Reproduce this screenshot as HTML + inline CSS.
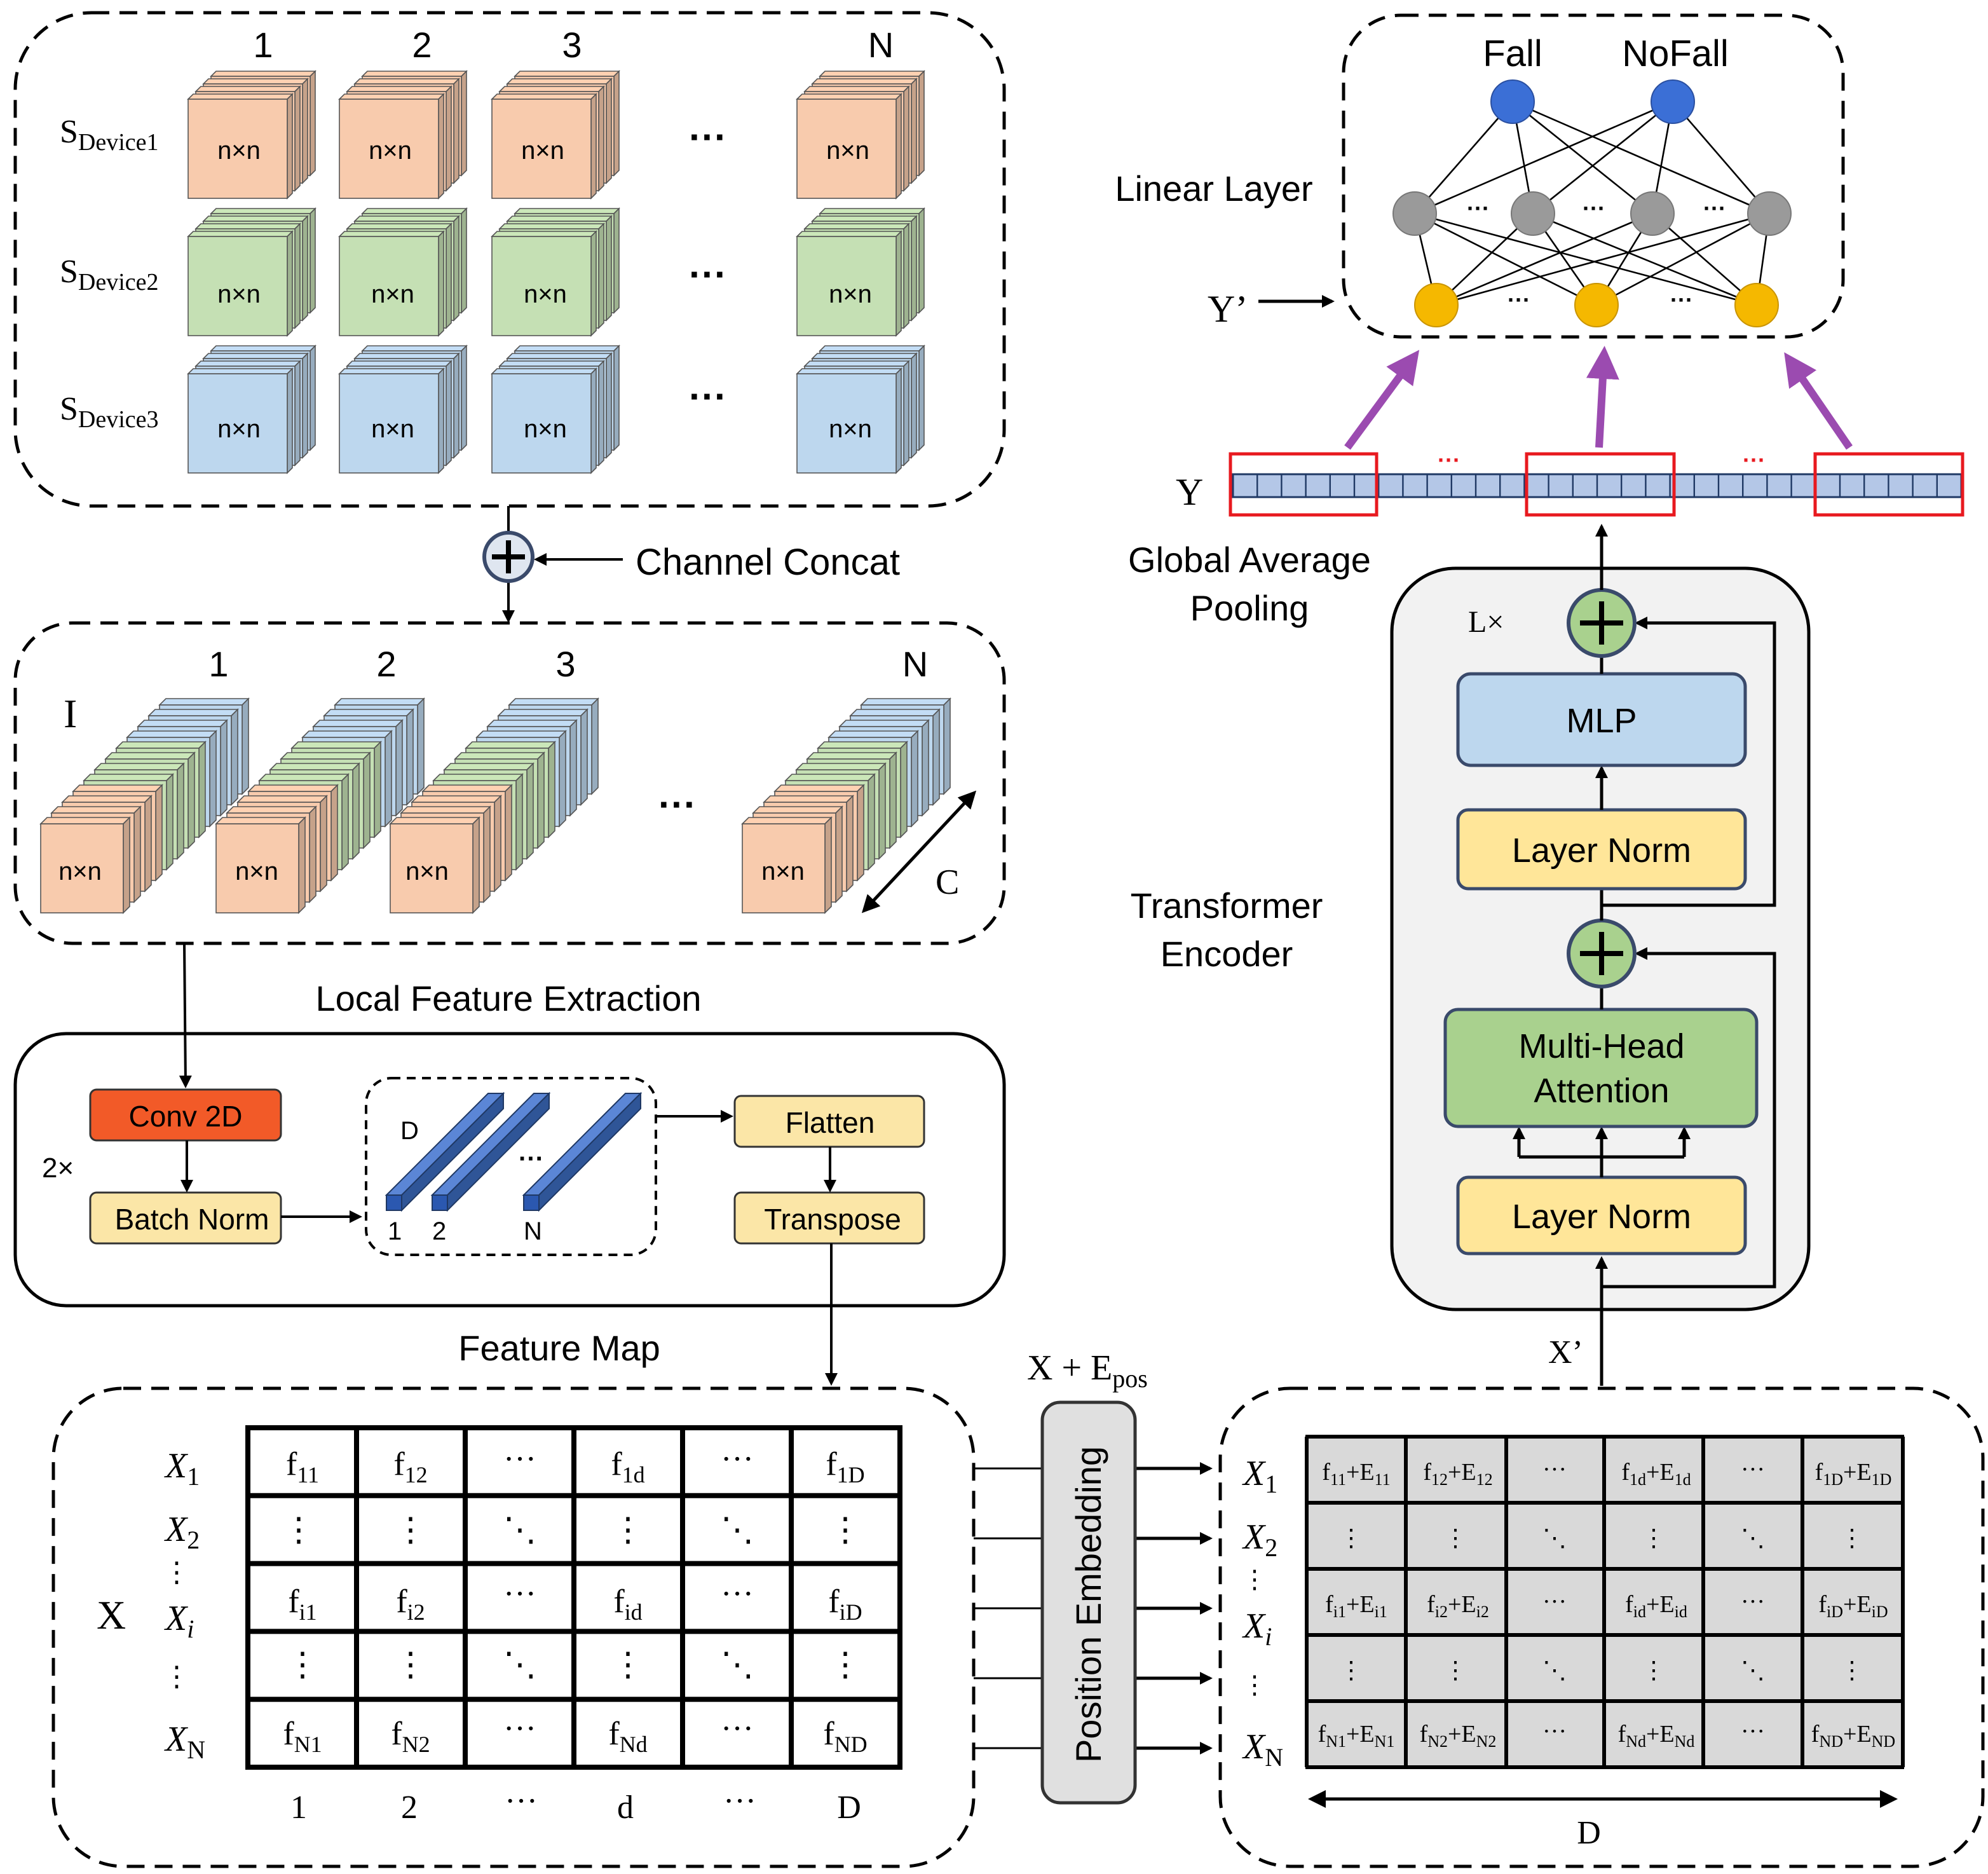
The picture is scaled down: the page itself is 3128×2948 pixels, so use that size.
<!DOCTYPE html>
<html><head><meta charset="utf-8"><style>
html,body{margin:0;padding:0;background:#fff}
svg{display:block}
.s{font-family:"Liberation Sans",sans-serif}
.r{font-family:"Liberation Serif",serif}
</style></head><body>
<svg id="g" width="3128" height="2948" viewBox="0 0 1564 1474" xmlns="http://www.w3.org/2000/svg">
<defs>
<marker id="a" markerWidth="10" markerHeight="10" refX="8" refY="5" orient="auto" markerUnits="userSpaceOnUse" viewBox="0 0 10 10"><path d="M0,0 L10,5 L0,10 z" fill="#000"/></marker>
<marker id="a2" markerWidth="14" markerHeight="14" refX="11" refY="7" orient="auto-start-reverse" markerUnits="userSpaceOnUse" viewBox="0 0 14 14"><path d="M0,0 L14,7 L0,14 z" fill="#000"/></marker>
<marker id="p" markerWidth="26" markerHeight="26" refX="20" refY="13" orient="auto" markerUnits="userSpaceOnUse" viewBox="0 0 26 26"><path d="M0,0 L26,13 L0,26 z" fill="#9b4bb0"/></marker>
</defs>
<g id="shapes"></g>

<rect x="12" y="10" width="778" height="388" rx="60" fill="none" stroke="#000" stroke-width="2.5" stroke-dasharray="14,8"/>
<g class="s" font-size="28" text-anchor="middle">
<text x="207" y="45">1</text><text x="332" y="45">2</text><text x="450" y="45">3</text><text x="693" y="45">N</text>
</g>
<g class="r" font-size="26">
<text x="47" y="112">S<tspan font-size="19" dy="6">Device1</tspan></text>
<text x="47" y="222">S<tspan font-size="19" dy="6">Device2</tspan></text>
<text x="47" y="330">S<tspan font-size="19" dy="6">Device3</tspan></text>
</g>
<g class="s" font-size="30" text-anchor="middle" font-weight="bold"><text x="557" y="118">···</text><text x="557" y="226">···</text><text x="557" y="322">···</text><text x="533" y="643">···</text></g>

<line x1="400" y1="398" x2="400" y2="488" stroke="#000" stroke-width="2" marker-end="url(#a)"/>
<circle cx="400" cy="438" r="19" fill="#dfe6f0" stroke="#3a4a6b" stroke-width="3"/>
<path d="M400,425 V451 M387,438 H413" stroke="#000" stroke-width="4"/>
<line x1="490" y1="440" x2="422" y2="440" stroke="#000" stroke-width="2" marker-end="url(#a)"/>
<text class="s" x="500" y="452" font-size="29">Channel Concat</text>

<rect x="12" y="490" width="778" height="252" rx="45" fill="none" stroke="#000" stroke-width="2.5" stroke-dasharray="14,8"/>
<g class="s" font-size="28" text-anchor="middle">
<text x="172" y="532">1</text><text x="304" y="532">2</text><text x="445" y="532">3</text><text x="720" y="532">N</text>
</g>
<text class="r" x="50" y="572" font-size="32">I</text>
<line x1="680" y1="716" x2="766" y2="624" stroke="#000" stroke-width="2.5" marker-start="url(#a2)" marker-end="url(#a2)"/>
<text class="r" x="736" y="703" font-size="28">C</text>

<line x1="145" y1="742" x2="146" y2="854" stroke="#000" stroke-width="2" marker-end="url(#a)"/>
<text class="s" x="400" y="795" font-size="28" text-anchor="middle">Local Feature Extraction</text>

<rect x="12" y="813" width="778" height="214" rx="40" fill="none" stroke="#000" stroke-width="2.5"/>
<rect x="71" y="857" width="150" height="40" rx="5" fill="#f25a28" stroke="#333" stroke-width="1.5"/>
<text class="s" x="146" y="886" font-size="23" text-anchor="middle">Conv 2D</text>
<rect x="71" y="938" width="150" height="40" rx="5" fill="#fbe6a7" stroke="#333" stroke-width="1.5"/>
<text class="s" x="151" y="967" font-size="23" text-anchor="middle">Batch Norm</text>
<line x1="147" y1="897" x2="147" y2="936" stroke="#000" stroke-width="2" marker-end="url(#a)"/>
<text class="s" x="33" y="926" font-size="22">2×</text>
<line x1="221" y1="957" x2="283" y2="957" stroke="#000" stroke-width="2" marker-end="url(#a)"/>
<rect x="288" y="848" width="228" height="139" rx="20" fill="none" stroke="#000" stroke-width="2" stroke-dasharray="7,5"/>
<g id="bars"></g>
<g class="s" font-size="20"><text x="315" y="896">D</text><text x="305" y="975">1</text><text x="340" y="975">2</text><text x="412" y="975">N</text><text x="408" y="918" font-weight="bold">···</text></g>
<line x1="516" y1="878" x2="575" y2="878" stroke="#000" stroke-width="2" marker-end="url(#a)"/>
<rect x="578" y="862" width="149" height="40" rx="5" fill="#fbe6a7" stroke="#333" stroke-width="1.5"/>
<text class="s" x="653" y="891" font-size="23" text-anchor="middle">Flatten</text>
<rect x="578" y="938" width="149" height="40" rx="5" fill="#fbe6a7" stroke="#333" stroke-width="1.5"/>
<text class="s" x="655" y="967" font-size="23" text-anchor="middle">Transpose</text>
<line x1="653" y1="902" x2="653" y2="936" stroke="#000" stroke-width="2" marker-end="url(#a)"/>
<line x1="654" y1="978" x2="654" y2="1088" stroke="#000" stroke-width="2" marker-end="url(#a)"/>
<text class="s" x="440" y="1070" font-size="28" text-anchor="middle">Feature Map</text>

<rect x="42" y="1092" width="724" height="376" rx="55" fill="none" stroke="#000" stroke-width="2.5" stroke-dasharray="14,8"/>
<g class="r" font-size="28" font-style="italic">
<text x="130" y="1162">X<tspan font-size="20" font-style="normal" dy="6">1</tspan></text>
<text x="130" y="1212">X<tspan font-size="20" font-style="normal" dy="6">2</tspan></text>
<text x="130" y="1282">X<tspan font-size="20" dy="6">i</tspan></text>
<text x="130" y="1377">X<tspan font-size="20" font-style="normal" dy="6">N</tspan></text>
</g>
<g class="r" font-size="22" text-anchor="middle"><text x="139" y="1244">⋮</text><text x="139" y="1326">⋮</text></g>
<text class="r" x="76" y="1281" font-size="32">X</text>
<g class="r" font-size="26" text-anchor="middle">
<text x="238" y="1160">f<tspan font-size="18" dy="6">11</tspan></text>
<text x="323" y="1160">f<tspan font-size="18" dy="6">12</tspan></text>
<text x="409" y="1156">···</text>
<text x="494" y="1160">f<tspan font-size="18" dy="6">1d</tspan></text>
<text x="580" y="1156">···</text>
<text x="665" y="1160">f<tspan font-size="18" dy="6">1D</tspan></text>
<text x="238" y="1268">f<tspan font-size="18" dy="6">i1</tspan></text>
<text x="323" y="1268">f<tspan font-size="18" dy="6">i2</tspan></text>
<text x="409" y="1262">···</text>
<text x="494" y="1268">f<tspan font-size="18" dy="6">id</tspan></text>
<text x="580" y="1262">···</text>
<text x="665" y="1268">f<tspan font-size="18" dy="6">iD</tspan></text>
<text x="238" y="1372">f<tspan font-size="18" dy="6">N1</tspan></text>
<text x="323" y="1372">f<tspan font-size="18" dy="6">N2</tspan></text>
<text x="409" y="1368">···</text>
<text x="494" y="1372">f<tspan font-size="18" dy="6">Nd</tspan></text>
<text x="580" y="1368">···</text>
<text x="665" y="1372">f<tspan font-size="18" dy="6">ND</tspan></text>
<text x="235" y="1212">⋮</text><text x="323" y="1212">⋮</text><text x="409" y="1212">⋱</text><text x="494" y="1212">⋮</text><text x="580" y="1212">⋱</text><text x="665" y="1212">⋮</text>
<text x="238" y="1318">⋮</text><text x="323" y="1318">⋮</text><text x="409" y="1318">⋱</text><text x="494" y="1318">⋮</text><text x="580" y="1318">⋱</text><text x="665" y="1318">⋮</text>
<text x="235" y="1430">1</text><text x="322" y="1430">2</text><text x="410" y="1425">···</text><text x="492" y="1430">d</text><text x="582" y="1425">···</text><text x="668" y="1430">D</text>
</g>

<text class="r" x="808" y="1085" font-size="28">X + E<tspan font-size="20" dy="6">pos</tspan></text>
<rect x="820" y="1103" width="73" height="315" rx="14" fill="#e0e0e0" stroke="#333" stroke-width="2.5"/>
<text class="s" x="866" y="1262" font-size="28" text-anchor="middle" transform="rotate(-90 866 1262)">Position Embedding</text>

<rect x="960" y="1092" width="600" height="376" rx="55" fill="none" stroke="#000" stroke-width="2.5" stroke-dasharray="14,8"/>
<rect x="1028" y="1130" width="469" height="260" fill="#d9d9d9"/>
<g id="rg"></g>
<g class="r" font-size="28" font-style="italic">
<text x="978" y="1168">X<tspan font-size="20" font-style="normal" dy="6">1</tspan></text>
<text x="978" y="1218">X<tspan font-size="20" font-style="normal" dy="6">2</tspan></text>
<text x="978" y="1288">X<tspan font-size="20" dy="6">i</tspan></text>
<text x="978" y="1383">X<tspan font-size="20" font-style="normal" dy="6">N</tspan></text>
</g>
<g class="r" font-size="20" text-anchor="middle"><text x="987" y="1249">⋮</text><text x="987" y="1332">⋮</text></g>
<g class="r" font-size="19" text-anchor="middle">
<text x="1067" y="1164">f<tspan font-size="13" dy="4">11</tspan><tspan dy="-4">+E</tspan><tspan font-size="13" dy="4">11</tspan></text>
<text x="1147" y="1164">f<tspan font-size="13" dy="4">12</tspan><tspan dy="-4">+E</tspan><tspan font-size="13" dy="4">12</tspan></text>
<text x="1223" y="1162">···</text>
<text x="1303" y="1164">f<tspan font-size="13" dy="4">1d</tspan><tspan dy="-4">+E</tspan><tspan font-size="13" dy="4">1d</tspan></text>
<text x="1379" y="1162">···</text>
<text x="1458" y="1164">f<tspan font-size="13" dy="4">1D</tspan><tspan dy="-4">+E</tspan><tspan font-size="13" dy="4">1D</tspan></text>
<text x="1067" y="1268">f<tspan font-size="13" dy="4">i1</tspan><tspan dy="-4">+E</tspan><tspan font-size="13" dy="4">i1</tspan></text>
<text x="1147" y="1268">f<tspan font-size="13" dy="4">i2</tspan><tspan dy="-4">+E</tspan><tspan font-size="13" dy="4">i2</tspan></text>
<text x="1223" y="1266">···</text>
<text x="1303" y="1268">f<tspan font-size="13" dy="4">id</tspan><tspan dy="-4">+E</tspan><tspan font-size="13" dy="4">id</tspan></text>
<text x="1379" y="1266">···</text>
<text x="1458" y="1268">f<tspan font-size="13" dy="4">iD</tspan><tspan dy="-4">+E</tspan><tspan font-size="13" dy="4">iD</tspan></text>
<text x="1067" y="1370">f<tspan font-size="13" dy="4">N1</tspan><tspan dy="-4">+E</tspan><tspan font-size="13" dy="4">N1</tspan></text>
<text x="1147" y="1370">f<tspan font-size="13" dy="4">N2</tspan><tspan dy="-4">+E</tspan><tspan font-size="13" dy="4">N2</tspan></text>
<text x="1223" y="1368">···</text>
<text x="1303" y="1370">f<tspan font-size="13" dy="4">Nd</tspan><tspan dy="-4">+E</tspan><tspan font-size="13" dy="4">Nd</tspan></text>
<text x="1379" y="1368">···</text>
<text x="1458" y="1370">f<tspan font-size="13" dy="4">ND</tspan><tspan dy="-4">+E</tspan><tspan font-size="13" dy="4">ND</tspan></text>
<text x="1063" y="1216">⋮</text><text x="1145" y="1216">⋮</text><text x="1223" y="1216">⋱</text><text x="1301" y="1216">⋮</text><text x="1379" y="1216">⋱</text><text x="1457" y="1216">⋮</text>
<text x="1063" y="1320">⋮</text><text x="1145" y="1320">⋮</text><text x="1223" y="1320">⋱</text><text x="1301" y="1320">⋮</text><text x="1379" y="1320">⋱</text><text x="1457" y="1320">⋮</text>
</g>
<line x1="1032" y1="1415" x2="1490" y2="1415" stroke="#000" stroke-width="2.5" marker-start="url(#a2)" marker-end="url(#a2)"/>
<text class="r" x="1250" y="1450" font-size="26" text-anchor="middle">D</text>

<rect x="1095" y="447" width="328" height="583" rx="50" fill="#f2f2f2" stroke="#000" stroke-width="2.5"/>
<text class="r" x="1155" y="497" font-size="24">L×</text>
<path d="M1260,712 H1396 V490 H1288" fill="none" stroke="#000" stroke-width="2.5" marker-end="url(#a)"/>
<path d="M1260,1012 H1396 V750 H1288" fill="none" stroke="#000" stroke-width="2.5" marker-end="url(#a)"/>
<line x1="1260" y1="1090" x2="1260" y2="990" stroke="#000" stroke-width="2.5" marker-end="url(#a)"/>
<text class="r" x="1218" y="1072" font-size="26">X’</text>
<rect x="1147" y="926" width="226" height="60" rx="8" fill="#ffe699" stroke="#3a4a6b" stroke-width="2.5"/>
<text class="s" x="1260" y="966" font-size="27" text-anchor="middle">Layer Norm</text>
<path d="M1260,926 V910 M1195,910 H1325" stroke="#000" stroke-width="2.5"/>
<line x1="1195" y1="910" x2="1195" y2="888" stroke="#000" stroke-width="2.5" marker-end="url(#a)"/>
<line x1="1260" y1="910" x2="1260" y2="888" stroke="#000" stroke-width="2.5" marker-end="url(#a)"/>
<line x1="1325" y1="910" x2="1325" y2="888" stroke="#000" stroke-width="2.5" marker-end="url(#a)"/>
<rect x="1137" y="794" width="245" height="92" rx="10" fill="#a9d18e" stroke="#3a4a6b" stroke-width="2.5"/>
<text class="s" x="1260" y="832" font-size="27" text-anchor="middle">Multi-Head</text>
<text class="s" x="1260" y="867" font-size="27" text-anchor="middle">Attention</text>
<line x1="1260" y1="794" x2="1260" y2="776" stroke="#000" stroke-width="2.5"/>
<circle cx="1260" cy="750" r="26" fill="#a9d18e" stroke="#3a4a6b" stroke-width="3"/>
<path d="M1260,733 V767 M1243,750 H1277" stroke="#000" stroke-width="4"/>
<line x1="1260" y1="724" x2="1260" y2="699" stroke="#000" stroke-width="2.5"/>
<rect x="1147" y="637" width="226" height="62" rx="8" fill="#ffe699" stroke="#3a4a6b" stroke-width="2.5"/>
<text class="s" x="1260" y="678" font-size="27" text-anchor="middle">Layer Norm</text>
<line x1="1260" y1="637" x2="1260" y2="604" stroke="#000" stroke-width="2.5" marker-end="url(#a)"/>
<rect x="1147" y="530" width="226" height="72" rx="10" fill="#bdd7ee" stroke="#3a4a6b" stroke-width="2.5"/>
<text class="s" x="1260" y="576" font-size="27" text-anchor="middle">MLP</text>
<line x1="1260" y1="530" x2="1260" y2="516" stroke="#000" stroke-width="2.5"/>
<circle cx="1260" cy="490" r="26" fill="#a9d18e" stroke="#3a4a6b" stroke-width="3"/>
<path d="M1260,473 V507 M1243,490 H1277" stroke="#000" stroke-width="4"/>
<line x1="1260" y1="464" x2="1260" y2="414" stroke="#000" stroke-width="2.5" marker-end="url(#a)"/>
<g class="s" font-size="28" text-anchor="middle">
<text x="965" y="722">Transformer</text><text x="965" y="760">Encoder</text>
<text x="983" y="450">Global Average</text><text x="983" y="488">Pooling</text>
<text x="955" y="158">Linear Layer</text>
</g>

<text class="r" x="925" y="397" font-size="30">Y</text>
<g id="bar"></g>
<g fill="none" stroke="#e8191f" stroke-width="2.5">
<rect x="968" y="357" width="115" height="48"/><rect x="1201" y="357" width="116" height="48"/><rect x="1428" y="357" width="116" height="48"/>
</g>
<g class="s" font-size="18" fill="#e8191f" font-weight="bold" text-anchor="middle"><text x="1140" y="368">···</text><text x="1380" y="368">···</text></g>
<line x1="1060" y1="352" x2="1113" y2="280" stroke="#9b4bb0" stroke-width="6" marker-end="url(#p)"/>
<line x1="1258" y1="352" x2="1262" y2="278" stroke="#9b4bb0" stroke-width="6" marker-end="url(#p)"/>
<line x1="1455" y1="352" x2="1407" y2="282" stroke="#9b4bb0" stroke-width="6" marker-end="url(#p)"/>

<rect x="1057" y="12" width="393" height="253" rx="45" fill="none" stroke="#000" stroke-width="2.5" stroke-dasharray="14,8"/>
<g id="net"></g>
<g class="s" font-size="29" text-anchor="middle"><text x="1190" y="52">Fall</text><text x="1318" y="52">NoFall</text></g>
<g class="s" font-size="18" text-anchor="middle" font-weight="bold"><text x="1163" y="170">···</text><text x="1254" y="170">···</text><text x="1349" y="170">···</text><text x="1195" y="242">···</text><text x="1323" y="242">···</text></g>
<text class="r" x="950" y="253" font-size="30">Y’</text>
<line x1="990" y1="237" x2="1048" y2="237" stroke="#000" stroke-width="2.5" marker-end="url(#a)"/>

<g font-family="Liberation Sans, sans-serif" font-size="20" text-anchor="middle">
<text x="188" y="125">n×n</text><text x="307" y="125">n×n</text><text x="427" y="125">n×n</text><text x="667" y="125">n×n</text>
<text x="188" y="238">n×n</text><text x="309" y="238">n×n</text><text x="429" y="238">n×n</text><text x="669" y="238">n×n</text>
<text x="188" y="344">n×n</text><text x="309" y="344">n×n</text><text x="429" y="344">n×n</text><text x="669" y="344">n×n</text>
<text x="63" y="692">n×n</text><text x="202" y="692">n×n</text><text x="336" y="692">n×n</text><text x="616" y="692">n×n</text>
</g>
</svg>
<script>
const NS="http://www.w3.org/2000/svg";
const sh=document.getElementById('shapes');
function el(t,a,p){const e=document.createElementNS(NS,t);for(const k in a)e.setAttribute(k,a[k]);(p||sh).appendChild(e);return e;}
function shade(c,f){const n=parseInt(c.slice(1),16);let r=(n>>16)&255,g=(n>>8)&255,b=n&255;return `rgb(${Math.round(r*f)},${Math.round(g*f)},${Math.round(b*f)})`;}
function cube(x,y,w,h,d,c){
 el('polygon',{points:`${x},${y} ${x+d},${y-d} ${x+w+d},${y-d} ${x+w},${y}`,fill:shade(c,1.03),stroke:'#555','stroke-width':0.8});
 el('polygon',{points:`${x+w},${y} ${x+w+d},${y-d} ${x+w+d},${y+h-d} ${x+w},${y+h}`,fill:shade(c,0.8),stroke:'#555','stroke-width':0.8});
 el('rect',{x:x,y:y,width:w,height:h,fill:c,stroke:'#555','stroke-width':0.8});
}
const cols=[148,267,387,627], rows=[[78,'#f8cbad'],[186,'#c5e0b4'],[294,'#bdd7ee']];
rows.forEach(([y,c])=>cols.forEach(x=>{for(let i=3;i>=0;i--) cube(x+i*6,y-i*6,78,78,4,c);}));
const cols2=[32,170,307,584];
const seq=['#bdd7ee','#bdd7ee','#bdd7ee','#bdd7ee','#c5e0b4','#c5e0b4','#c5e0b4','#c5e0b4','#f8cbad','#f8cbad','#f8cbad','#f8cbad'];
cols2.forEach(x=>{for(let i=11;i>=0;i--){cube(x+i*8.5,648-i*8.5,65,70,5,seq[11-i]);}});
const bg=document.getElementById('bars');
function bar(x,y,L){
 const w=12,d=L;
 // top face (long diagonal) and right face
 el('polygon',{points:`${x},${y} ${x+d},${y-d} ${x+d+w},${y-d} ${x+w},${y}`,fill:'#5b86d6',stroke:'#1f3864','stroke-width':1},bg);
 el('polygon',{points:`${x+w},${y} ${x+d+w},${y-d} ${x+d+w},${y-d+w} ${x+w},${y+w}`,fill:'#2f5597',stroke:'#1f3864','stroke-width':1},bg);
 el('rect',{x:x,y:y,width:w,height:w,fill:'#2b58b0',stroke:'#1f3864','stroke-width':1},bg);
}
bar(304,940,80);bar(340,940,80);bar(412,940,80);
for(let i=0;i<=6;i++)el('line',{x1:195+i*85.5,y1:1123,x2:195+i*85.5,y2:1390,stroke:'#000','stroke-width':4});
for(let j=0;j<=5;j++)el('line',{x1:193,y1:1123+j*53.4,x2:710,y2:1123+j*53.4,stroke:'#000','stroke-width':4});
const rg=document.getElementById('rg');
[1028,1106,1185,1262,1340,1418,1497].forEach(x=>el('line',{x1:x,y1:1130,x2:x,y2:1390,stroke:'#000','stroke-width':3},rg));
for(let j=0;j<=5;j++)el('line',{x1:1027,y1:1130+j*52,x2:1498,y2:1130+j*52,stroke:'#000','stroke-width':3},rg);
[1155,1210,1265,1320,1375].forEach(y=>{
 el('line',{x1:766,y1:y,x2:820,y2:y,stroke:'#000','stroke-width':1.5});
 el('line',{x1:893,y1:y,x2:952,y2:y,stroke:'#000','stroke-width':2.5,'marker-end':'url(#a)'});
});
const b=document.getElementById('bar');
el('rect',{x:970,y:373,width:573,height:18,fill:'#b4c7e7',stroke:'#1f3864','stroke-width':1.5},b);
for(let x=970+19.1;x<1543;x+=19.1)el('line',{x1:x,y1:373,x2:x,y2:391,stroke:'#1f3864','stroke-width':1.2},b);
const n=document.getElementById('net');
const B=[[1190,80],[1316,80]],G=[[1113,168],[1206,168],[1300,168],[1392,168]],Y=[[1130,240],[1256,240],[1382,240]];
G.forEach(g=>B.forEach(p=>el('line',{x1:g[0],y1:g[1],x2:p[0],y2:p[1],stroke:'#000','stroke-width':1.3},n)));
Y.forEach(y=>G.forEach(g=>el('line',{x1:y[0],y1:y[1],x2:g[0],y2:g[1],stroke:'#000','stroke-width':1.3},n)));
B.forEach(p=>el('circle',{cx:p[0],cy:p[1],r:17,fill:'#3b6fd6',stroke:'#2a4fa0'},n));
G.forEach(p=>el('circle',{cx:p[0],cy:p[1],r:17,fill:'#9a9a9a',stroke:'#777'},n));
Y.forEach(p=>el('circle',{cx:p[0],cy:p[1],r:17,fill:'#f5b800',stroke:'#c99400'},n));
</script>
</body></html>
